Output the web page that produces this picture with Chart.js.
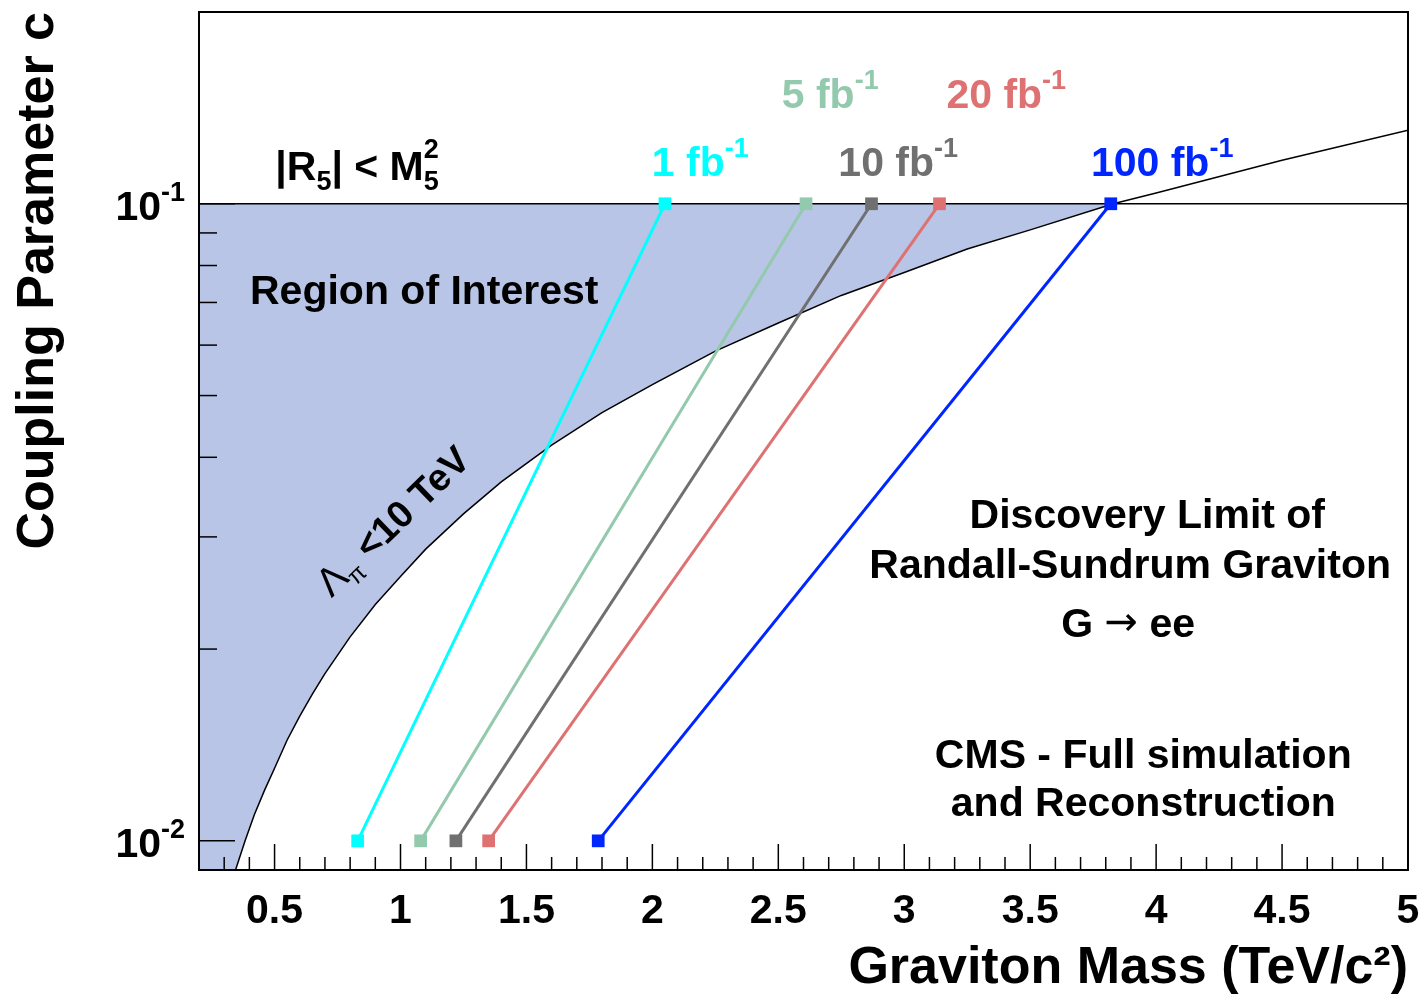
<!DOCTYPE html>
<html>
<head>
<meta charset="utf-8">
<script src="https://cdn.jsdelivr.net/npm/chart.js@4.4.1/dist/chart.umd.min.js"></script>
<style>
body { margin: 0; background: #fff; }
</style>
</head>
<body>
<canvas id="discoveryChart" width="1425" height="995"></canvas>
<script>
// discovery reach, one line per integrated luminosity
const lumiLabels = ['1', '5', '10', '20', '100'];
const lumiColors = ['#00ffff', '#93c9ad', '#707070', '#de7272', '#0026ff'];
const massAtLowC = [0.83, 1.08, 1.22, 1.35, 1.785];
const massAtHighC = [2.05, 2.61, 2.87, 3.14, 3.82];
const couplingEnds = [0.01, 0.1];

// Lambda_pi < 10 TeV boundary
const lambdaMass = [0.345, 0.383, 0.42, 0.46, 0.5, 0.55, 0.6, 0.65, 0.7, 0.8, 0.9, 1.0, 1.1, 1.25, 1.4, 1.6, 1.8,
    2.0, 2.25, 2.5, 2.75, 3.0, 3.25, 3.5, 3.83, 4.0, 4.5, 5.0];
const lambdaC = [0.009, 0.01, 0.011, 0.012, 0.013, 0.0144, 0.0157, 0.017, 0.0183, 0.0209, 0.0235, 0.026, 0.0287,
    0.0326, 0.0366, 0.0418, 0.047, 0.052, 0.0587, 0.065, 0.0718, 0.078, 0.0849, 0.091, 0.1, 0.104, 0.117, 0.1305];

// |R5| < M5^2 limit
const r5Limit = 0.1;

const xRange = [0.2, 5];
const yRange = [0.009, 0.2];
const xMajorTicks = [0.5, 1, 1.5, 2, 2.5, 3, 3.5, 4, 4.5, 5];
const yMajorTicks = [0.01, 0.1];
const yMinorTicks = [0.02, 0.03, 0.04, 0.05, 0.06, 0.07, 0.08, 0.09];

const FONT = "'Liberation Sans', Arial, 'DejaVu Sans', sans-serif";

const canvas = document.getElementById('discoveryChart');

// draw a row of text pieces (sub/superscripts via raise)
function runFont(r) {
    return (r.weight || 'bold') + ' ' + r.size + 'px ' + (r.family || FONT);
}

function drawRuns(g, x, y, runs, align) {
    let total = 0;
    runs.forEach(r => {
        g.font = runFont(r);
        r.w = g.measureText(r.text).width;
        if (r.stack) {
            g.font = runFont(r.stack);
            r.w = Math.max(r.w, g.measureText(r.stack.text).width);
        }
        total += r.w;
    });
    let cx = align === 'center' ? x - total / 2 : (align === 'right' ? x - total : x);
    g.textAlign = 'left';
    g.textBaseline = 'alphabetic';
    runs.forEach(r => {
        g.font = runFont(r);
        g.fillText(r.text, cx, y - (r.raise || 0));
        if (r.stack) {
            g.font = runFont(r.stack);
            g.fillText(r.stack.text, cx, y - r.stack.raise);
        }
        cx += r.w;
    });
}

const sup = (t) => ({ text: t, size: 27, raise: 19 });
const big = (t) => ({ text: t, size: 41 });

// label anchors in data units (mass, coupling), baseline
const lumiLabelPos = [[2.19, 0.1105], [2.706, 0.1412], [2.976, 0.1105], [3.405, 0.1412], [4.024, 0.1105]];

const annotationPlugin = {
    id: 'rootStyle',
    afterDatasetsDraw(chart) {
        const g = chart.ctx;
        const xs = chart.scales.x;
        const ys = chart.scales.y;
        const area = chart.chartArea;
        g.save();
        g.strokeStyle = '#000';
        g.lineWidth = 1.5;
        // inward ticks on x
        for (let i = 2; i <= 50; i++) {
            const v = i / 10;
            const px = xs.getPixelForValue(v);
            const len = (i % 5 === 0) ? 26 : 13;
            g.beginPath();
            g.moveTo(px, area.bottom);
            g.lineTo(px, area.bottom - len);
            g.stroke();
        }
        // inward ticks on y
        yMajorTicks.concat(yMinorTicks).forEach(v => {
            const py = ys.getPixelForValue(v);
            const len = yMajorTicks.includes(v) ? 36 : 18;
            g.beginPath();
            g.moveTo(area.left, py);
            g.lineTo(area.left + len, py);
            g.stroke();
        });
        // frame
        g.lineWidth = 2;
        g.strokeRect(area.left, area.top, area.right - area.left, area.bottom - area.top);

        // y tick labels 10^-1, 10^-2
        g.fillStyle = '#000';
        yMajorTicks.forEach(v => {
            const py = ys.getPixelForValue(v);
            const exp = String(Math.round(Math.log10(v)));
            drawRuns(g, area.left - 14, py + 16, [big('10'), sup(exp)], 'right');
        });

        // luminosity labels
        lumiLabels.forEach((l, i) => {
            g.fillStyle = lumiColors[i];
            const p = lumiLabelPos[i];
            drawRuns(g, xs.getPixelForValue(p[0]), ys.getPixelForValue(p[1]),
                [big(l + ' fb'), sup('-1')], 'center');
        });

        g.fillStyle = '#000';
        drawRuns(g, xs.getPixelForValue(0.8275), ys.getPixelForValue(0.109), [
            big('|R'), { text: '5', size: 27, raise: -10 }, big('| < M'),
            { text: '5', size: 27, raise: -10, stack: { text: '2', size: 27, raise: 22 } }
        ], 'center');

        drawRuns(g, xs.getPixelForValue(0.4025), ys.getPixelForValue(0.0696), [big('Region of Interest')], 'left');

        // rotated Lambda_pi label
        g.save();
        g.translate(xs.getPixelForValue(0.9665), ys.getPixelForValue(0.03184));
        g.rotate(-44 * Math.PI / 180);
        drawRuns(g, 0, 14, [
            { text: 'Λ', size: 40, weight: 'normal' },
            { text: 'π', size: 24, raise: -8, weight: 'normal' },
            { text: ' <10 TeV', size: 38 }
        ], 'center');
        g.restore();

        const cx = (v) => xs.getPixelForValue(v);
        const cy = (v) => ys.getPixelForValue(v);
        drawRuns(g, cx(3.965), cy(0.03097), [big('Discovery Limit of')], 'center');
        drawRuns(g, cx(3.897), cy(0.02585), [big('Randall-Sundrum Graviton')], 'center');
        drawRuns(g, cx(3.889), cy(0.02091), [
            big('G '),
            { text: '→', size: 40, weight: 'normal', family: "'DejaVu Sans', sans-serif", raise: 2 },
            big(' ee')
        ], 'center');
        drawRuns(g, cx(3.949), cy(0.0130), [big('CMS - Full simulation')], 'center');
        drawRuns(g, cx(3.949), cy(0.01094), [big('and Reconstruction')], 'center');
        g.restore();
    }
};

const datasets = [];
lumiLabels.forEach((l, i) => {
    datasets.push({
        label: l + ' fb-1',
        data: [{ x: massAtLowC[i], y: couplingEnds[0] }, { x: massAtHighC[i], y: couplingEnds[1] }],
        showLine: true,
        borderColor: lumiColors[i],
        borderWidth: 3,
        pointStyle: 'rect',
        pointRadius: 9,
        pointBackgroundColor: lumiColors[i],
        pointBorderWidth: 0
    });
});

datasets.push({
    label: 'R5 limit',
    data: [{ x: xRange[0], y: r5Limit }, { x: xRange[1], y: r5Limit }],
    showLine: true,
    borderColor: '#000',
    borderWidth: 1.5,
    pointRadius: 0
});

datasets.push({
    label: 'Lambda_pi < 10 TeV',
    data: lambdaMass.map((m, i) => ({ x: m, y: lambdaC[i] })),
    showLine: true,
    borderColor: '#000',
    borderWidth: 1.5,
    pointRadius: 0
});

// shaded region: left of the Lambda_pi curve, below the R5 line
const shadePoints = [{ x: xRange[0], y: yRange[0] }];
lambdaMass.forEach((m, i) => {
    if (lambdaC[i] <= r5Limit) shadePoints.push({ x: m, y: lambdaC[i] });
});
shadePoints.push({ x: xRange[0], y: r5Limit });

datasets.push({
    label: 'Region of Interest',
    data: shadePoints,
    showLine: true,
    fill: 'shape',
    backgroundColor: 'rgb(184, 197, 230)',
    borderWidth: 0,
    pointRadius: 0
});

new Chart(canvas, {
    type: 'scatter',
    data: { datasets: datasets },
    options: {
        responsive: false,
        animation: false,
        events: [],
        layout: { padding: { top: 12, right: 17, left: 0, bottom: 0 } },
        plugins: {
            legend: { display: false },
            tooltip: { enabled: false },
            filler: { drawTime: 'beforeDatasetsDraw' }
        },
        scales: {
            x: {
                type: 'linear',
                min: xRange[0],
                max: xRange[1],
                afterBuildTicks: (scale) => {
                    scale.ticks = xMajorTicks.map(v => ({ value: v }));
                },
                afterFit: (scale) => {
                    scale.height = 125;
                    scale.paddingLeft = 0;
                    scale.paddingRight = 0;
                },
                ticks: {
                    autoSkip: false,
                    maxRotation: 0,
                    padding: 9,
                    color: '#000',
                    font: { family: FONT, size: 41, weight: 'bold' },
                    callback: (v) => String(v)
                },
                grid: { display: false },
                border: { display: false },
                title: {
                    display: true,
                    text: 'Graviton Mass (TeV/c²)',
                    align: 'end',
                    color: '#000',
                    padding: { top: 0, bottom: 0 },
                    font: { family: FONT, size: 52, weight: 'bold', lineHeight: 1.0 }
                }
            },
            y: {
                type: 'logarithmic',
                min: yRange[0],
                max: yRange[1],
                afterFit: (scale) => { scale.width = 199; },
                ticks: { callback: () => '' },
                grid: { display: false },
                border: { display: false },
                title: {
                    display: true,
                    text: 'Coupling Parameter c',
                    align: 'end',
                    color: '#000',
                    padding: { top: 13, bottom: 0 },
                    font: { family: FONT, size: 52, weight: 'bold', lineHeight: 1.0 }
                }
            }
        }
    },
    plugins: [annotationPlugin]
});
</script>
</body>
</html>
